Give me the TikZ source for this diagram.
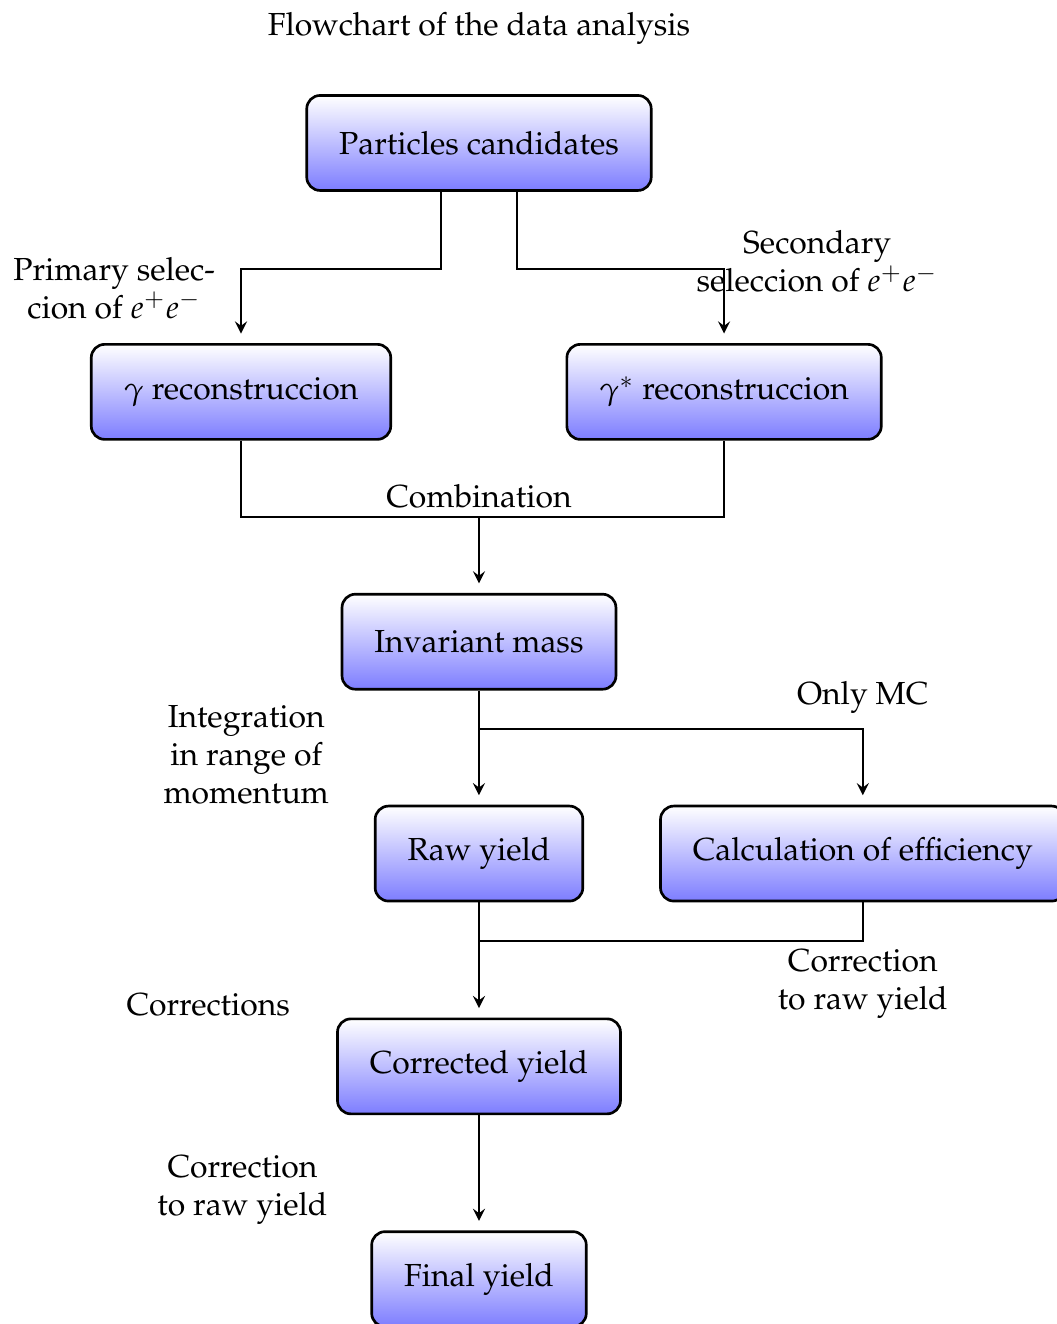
\documentclass[tikz,border=0pt]{standalone}
\usepackage[T1]{fontenc}
\usepackage{mathpazo}
\usepackage{tikz}
\usetikzlibrary{shapes.geometric, arrows, positioning, calc}
\definecolor{colorPro}{RGB}{125, 125, 255}
\tikzstyle{process} = [rectangle, rounded corners, minimum height=1cm, inner xsep=9.7pt, text centered, thick, draw=black, top color=white, bottom color=colorPro]
\tikzstyle{comment} = [text centered, align=center]
\tikzstyle{connector} = [semithick]
\tikzstyle{arrow} = [semithick,->,>=stealth, shorten >=1mm]

\begin{document}
\begin{tikzpicture}[every node/.style={font=\fontsize{9.55pt}{11.4pt}\selectfont}]

	\useasboundingbox (-5.042,1.505) rectangle (6.074,-12.432);

	% title
	\node (title) at (0,1.2) {Flowchart of the data analysis};

	% boxes
	\node (pCandidates)[process] at (0,0) {Particles candidates};
	\node (pGamma)[process] at (-2.505,-2.62) {$\gamma$ reconstruccion};
	\node (pGammaStar)[process] at (2.58,-2.62) {$\gamma^*$ reconstruccion};
	\node (pInvMass)[process] at (0,-5.25) {Invariant mass};
	\node (pRawYield)[process] at (0,-7.48) {Raw yield};
	\node (pEfficiency)[process] at (4.04,-7.48) {Calculation of efficiency};
	\node (pCorrYield)[process] at (0,-9.72) {Corrected yield};
	\node (pFinalYield)[process] at (0,-11.96) {Final yield};

	% labels
	\node (cPrimary)[comment] at (-3.84,-1.53) {Primary selec-\\cion of $e^+e^-$};
	\node (cSecondary)[comment] at (3.56,-1.25) {Secondary\\seleccion of $e^+e^-$};
	\node (cIntegration)[comment] at (-2.45,-6.44) {Integration\\in range of\\momentum};
	\node (cOnlyMC)[comment] at (4.04,-5.84) {Only MC};
	\node (cCorrRight)[comment] at (4.04,-8.85) {Correction\\to raw yield};
	\node (cCorrections)[comment] at (-2.85,-9.07) {Corrections};
	\node (cCorrLeft)[comment] at (-2.49,-11.02) {Correction\\to raw yield};

	% turning points
	\coordinate (combi) at (0,-3.94);
	\coordinate (branchMC) at (0,-6.17);
	\coordinate (merge) at (0,-8.4);

	% lines and arrows
	\draw[arrow] ([xshift=-4mm]pCandidates.south) -- ++(0,-0.81) -| (pGamma);
	\draw[arrow] ([xshift=4mm]pCandidates.south) -- ++(0,-0.81) -| (pGammaStar);

	\draw[connector] (pGamma) |- (combi) -| (pGammaStar);
	\node[anchor=south, inner sep=2.5pt] at (combi) {Combination};
	\draw[arrow] (combi) -- (pInvMass);

	\draw[arrow] (pInvMass) -- (pRawYield);
	\draw[arrow] (branchMC) -| (pEfficiency);

	\draw[connector] (pEfficiency) |- (merge);
	\draw[arrow] (pRawYield) -- (pCorrYield);

	\draw[arrow] (pCorrYield) -- (pFinalYield);

\end{tikzpicture}
\end{document}
